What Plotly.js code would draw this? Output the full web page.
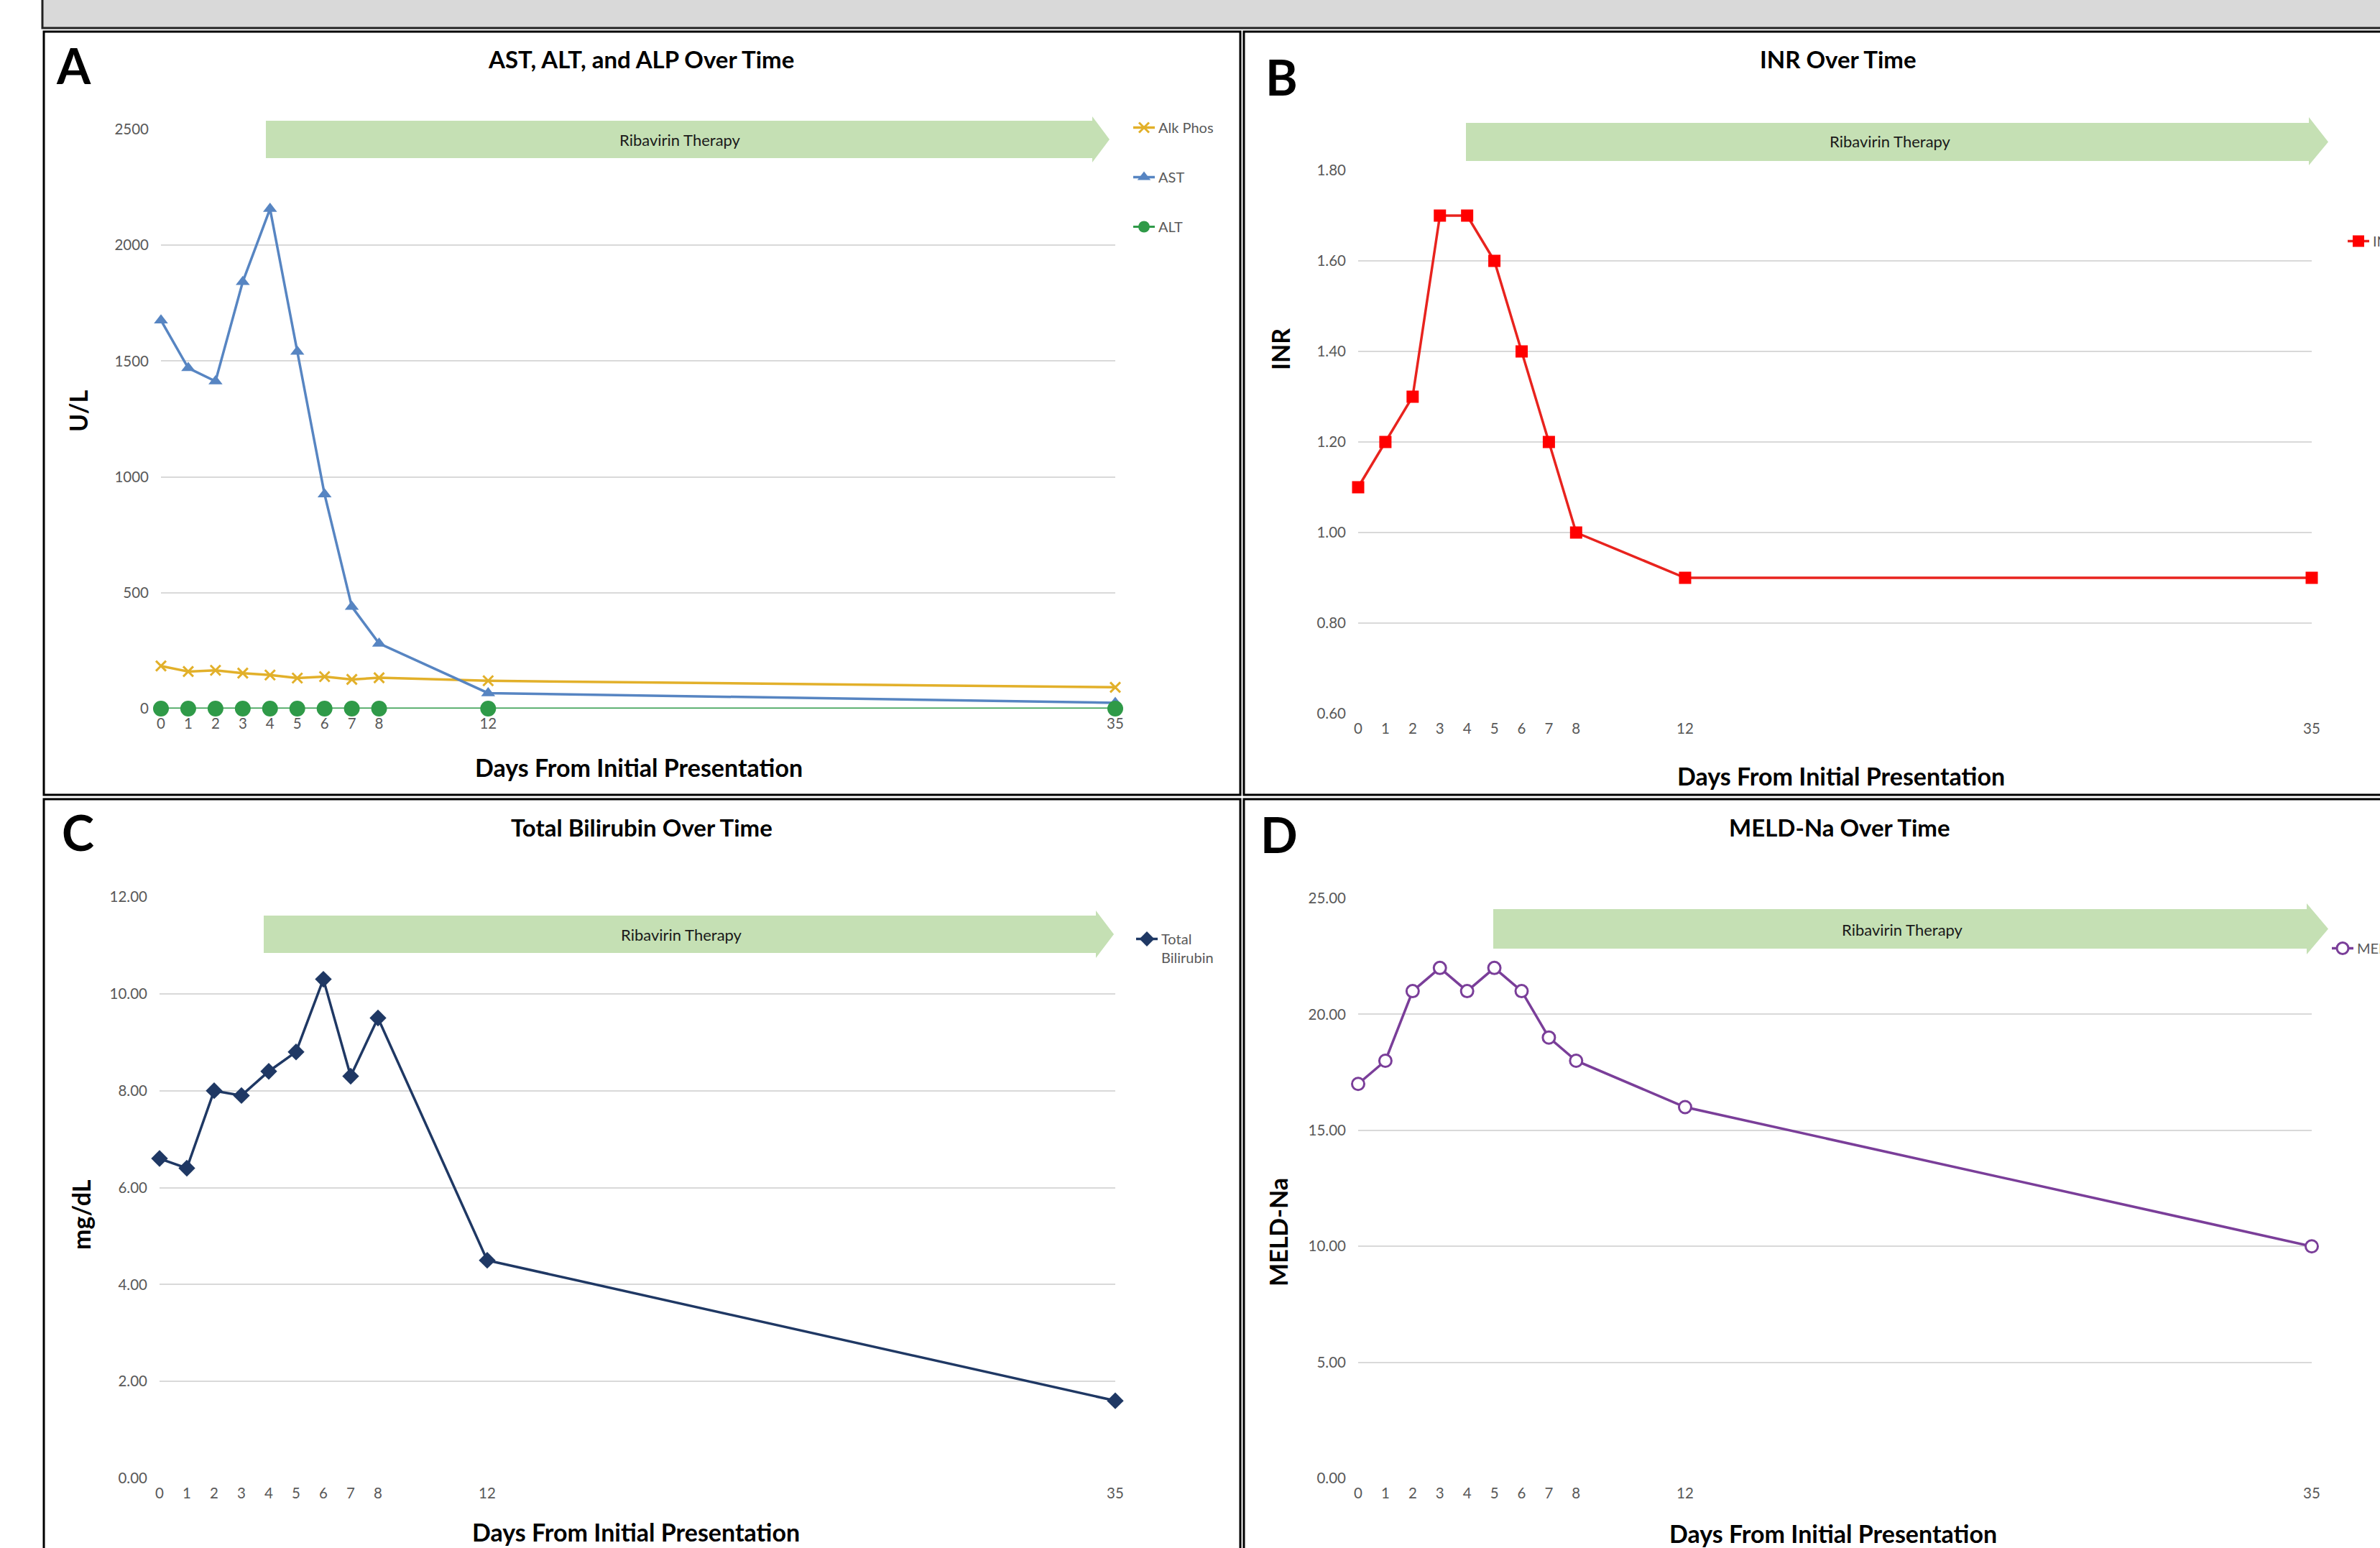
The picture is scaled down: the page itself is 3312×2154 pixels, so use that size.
<!DOCTYPE html>
<html><head><meta charset="utf-8">
<script src="https://cdn.plot.ly/plotly-3.0.1.min.js"></script>
<style>html,body{margin:0;padding:0;background:#fff;overflow:hidden;width:3312px;height:2154px}#chart{width:3312px;height:2154px;overflow:hidden;position:relative}#chart .svg-container,#chart svg{overflow:hidden}</style>
</head><body><div id="chart"></div>
<script>
// ---- data ----
const days = [0, 1, 2, 3, 4, 5, 6, 7, 8, 12, 35];
const dayTickLabels = ['0', '1', '2', '3', '4', '5', '6', '7', '8', '12', '35'];
const alkPhos = [184, 160, 165, 153, 145, 132, 138, 126, 133, 120, 92];
const ast = [1676, 1470, 1413, 1842, 2157, 1541, 925, 440, 281, 67, 25];
const alt = [0, 0, 0, 0, 0, 0, 0, 0, 0, 0, 0];
const inr = [1.10, 1.20, 1.30, 1.70, 1.70, 1.60, 1.40, 1.20, 1.00, 0.90, 0.90];
const bilirubin = [6.6, 6.4, 8.0, 7.9, 8.4, 8.8, 10.3, 8.3, 9.5, 4.5, 1.6];
const meldNa = [17, 18, 21, 22, 21, 22, 21, 19, 18, 16, 10];
const ulTicks = [0, 500, 1000, 1500, 2000, 2500];
const inrTicks = [0.6, 0.8, 1.0, 1.2, 1.4, 1.6, 1.8];
const biliTicks = [0, 2, 4, 6, 8, 10, 12];
const meldTicks = [0, 5, 10, 15, 20, 25];
const panelTitles = ['AST, ALT, and ALP Over Time', 'INR Over Time', 'Total Bilirubin Over Time', 'MELD-Na Over Time'];
const yTitles = ['U/L', 'INR', 'mg/dL', 'MELD-Na'];
const xTitle = 'Days From Initial Presentation';
const panelLetters = ['A', 'B', 'C', 'D'];
const arrowLabel = 'Ribavirin Therapy';

// ---- layout helpers ----
const W = 3312, H = 2154;
const px = x => x / W;
const py = y => 1 - y / H;
const FONT = 'Lato, Roboto, sans-serif';
const TICK = {family: FONT, size: 20.5, color: '#595959'};
const GRID = '#d9d9d9';

function xAxis(l, r) {
  return {domain: [px(l), px(r)], range: [0, 35], tickmode: 'array', tickvals: days, ticktext: dayTickLabels,
    showgrid: false, zeroline: false, showline: false, ticks: '', tickfont: TICK, ticklabelstandoff: 6, fixedrange: true};
}
function yAxis(b, t, range, vals, fmt, anchor) {
  return {domain: [py(b), py(t)], range: range, tickmode: 'array', tickvals: vals, tickformat: fmt,
    showgrid: true, gridcolor: GRID, gridwidth: 2, zeroline: false, showline: false, ticks: '',
    tickfont: TICK, ticklabelstandoff: 16, anchor: anchor, fixedrange: true};
}

const traces = [
  {x: days, y: alkPhos, name: 'Alk Phos', type: 'scatter', mode: 'lines+markers', xaxis: 'x', yaxis: 'y',
   legend: 'legend', legendgroup: 'g1', line: {color: '#e2b02a', width: 3.5},
   marker: {symbol: 'x-thin-open', size: 14, line: {color: '#e2b02a', width: 3}}},
  {x: days, y: ast, name: 'AST', type: 'scatter', mode: 'lines+markers', xaxis: 'x', yaxis: 'y',
   legend: 'legend', legendgroup: 'g2', line: {color: '#5785c2', width: 3.5},
   marker: {symbol: 'triangle-up', size: 17, color: '#5785c2'}},
  {x: days, y: alt, name: 'ALT', type: 'scatter', mode: 'lines+markers', xaxis: 'x', yaxis: 'y',
   legend: 'legend', legendgroup: 'g3', line: {color: '#2f9a48', width: 3},
   marker: {symbol: 'circle', size: 22, color: '#2f9a48'}},
  {x: days, y: inr, name: 'INR', type: 'scatter', mode: 'lines+markers', xaxis: 'x2', yaxis: 'y2',
   legend: 'legend2', line: {color: '#e8231e', width: 3.5},
   marker: {symbol: 'square', size: 17, color: '#ff0000'}},
  {x: days, y: bilirubin, name: 'Total<br>Bilirubin', type: 'scatter', mode: 'lines+markers', xaxis: 'x3', yaxis: 'y3',
   legend: 'legend3', line: {color: '#1f3864', width: 3.5},
   marker: {symbol: 'diamond', size: 18, color: '#1f3864'}},
  {x: days, y: meldNa, name: 'MELD-Na', type: 'scatter', mode: 'lines+markers', xaxis: 'x4', yaxis: 'y4',
   legend: 'legend4', line: {color: '#7a3e99', width: 3.5},
   marker: {symbol: 'circle', size: 17, color: '#ffffff', line: {color: '#7a3e99', width: 3}}}
];
traces.forEach(t => { t.cliponaxis = false; });

function P(x, y) { return px(x).toFixed(5) + ',' + py(y).toFixed(5); }
function arrowPath(left, top, bottom, hs, ht, hb, tip) {
  const mid = (top + bottom) / 2;
  return 'M' + P(left, top) + ' L' + P(hs, top) + ' L' + P(hs, ht) + ' L' + P(tip, mid) +
         ' L' + P(hs, hb) + ' L' + P(hs, bottom) + ' L' + P(left, bottom) + ' Z';
}
const arrows = [
  [370, 168, 220, 1520, 162, 226, 1544, 946, 194],
  [2040, 171, 224, 3213, 163, 230, 3240, 2630, 197],
  [367, 1274, 1326, 1525, 1267, 1333, 1550, 948, 1300],
  [2078, 1265, 1320, 3210, 1257, 1328, 3240, 2647, 1293]
];

const BORDER = {color: '#000', width: 3};
const shapes = [
  // grey figure-title band (cut off at the top of the picture)
  {type: 'rect', xref: 'paper', yref: 'paper', x0: px(59), x1: 1, y0: py(39), y1: 1,
   fillcolor: '#d9d9d9', line: {width: 0}, layer: 'below'},
  {type: 'path', xref: 'paper', yref: 'paper', path: 'M' + P(59, 0) + ' L' + P(59, 39) + ' L' + P(3312, 39),
   line: {color: '#222', width: 3}, layer: 'below'},
  // panel A frame
  {type: 'rect', xref: 'paper', yref: 'paper', x0: px(61), x1: px(1726), y0: py(1106), y1: py(44),
   line: BORDER, layer: 'below'},
  // panel B frame (right edge cut off)
  {type: 'path', xref: 'paper', yref: 'paper', path: 'M' + P(3312, 44) + ' L' + P(1731, 44) + ' L' + P(1731, 1106) + ' L' + P(3312, 1106),
   line: BORDER, layer: 'below'},
  // panel C frame (bottom edge cut off)
  {type: 'path', xref: 'paper', yref: 'paper', path: 'M' + P(61, 2154) + ' L' + P(61, 1112) + ' L' + P(1726, 1112) + ' L' + P(1726, 2154),
   line: BORDER, layer: 'below'},
  // panel D frame (right and bottom cut off)
  {type: 'path', xref: 'paper', yref: 'paper', path: 'M' + P(1731, 2154) + ' L' + P(1731, 1112) + ' L' + P(3312, 1112),
   line: BORDER, layer: 'below'}
];
arrows.forEach(a => shapes.push({type: 'path', xref: 'paper', yref: 'paper',
  path: arrowPath(a[0], a[1], a[2], a[3], a[4], a[5], a[6]),
  fillcolor: '#c5e0b4', line: {width: 0}, layer: 'above'}));

const ann = [];
function txt(text, x, y, size, bold, opts) {
  ann.push(Object.assign({text: bold ? '<b>' + text + '</b>' : text, xref: 'paper', yref: 'paper',
    x: px(x), y: py(y), xanchor: 'center', yanchor: 'middle', showarrow: false,
    font: {family: FONT, size: size, color: '#000'}}, opts || {}));
}
const letterPos = [[102, 90], [1784, 106], [108, 1157], [1780, 1160]];
const titlePos = [[892, 82], [2558, 82], [893, 1151], [2560, 1151]];
const xTitlePos = [[889, 1067], [2562, 1079], [885, 2131], [2551, 2133]];
const yTitlePos = [[108, 572], [1781, 486], [112, 1690], [1778, 1715]];
for (let i = 0; i < 4; i++) {
  txt(panelLetters[i], letterPos[i][0], letterPos[i][1], 68, true);
  txt(panelTitles[i], titlePos[i][0], titlePos[i][1], 33, true);
  txt(xTitle, xTitlePos[i][0], xTitlePos[i][1], 34, true);
  txt(yTitles[i], yTitlePos[i][0], yTitlePos[i][1], 34, true, {textangle: -90});
  txt(arrowLabel, arrows[i][7], arrows[i][8], 22, false, {font: {family: FONT, size: 22, color: '#1a1a1a'}});
}

const legendBase = {xanchor: 'left', yanchor: 'top', bgcolor: 'rgba(0,0,0,0)', borderwidth: 0,
  font: {family: FONT, size: 20, color: '#595959'}, itemclick: false, itemdoubleclick: false};

const layout = {
  width: W, height: H, margin: {l: 0, r: 0, t: 0, b: 0, autoexpand: false}, autosize: false,
  paper_bgcolor: '#fff', plot_bgcolor: 'rgba(0,0,0,0)',
  showlegend: true,
  xaxis: xAxis(224, 1552), yaxis: yAxis(986, 180, [0, 2500], ulTicks, 'd', 'x'),
  xaxis2: xAxis(1890, 3217), yaxis2: yAxis(993, 237, [0.6, 1.8], inrTicks, '.2f', 'x2'),
  xaxis3: xAxis(222, 1552), yaxis3: yAxis(2057, 1248, [0, 12], biliTicks, '.2f', 'x3'),
  xaxis4: xAxis(1890, 3217), yaxis4: yAxis(2057, 1250, [0, 25], meldTicks, '.2f', 'x4'),
  legend: Object.assign({}, legendBase, {x: px(1572), y: py(158), traceorder: 'grouped', tracegroupgap: 40}),
  legend2: Object.assign({}, legendBase, {x: px(3262), y: py(316)}),
  legend3: Object.assign({}, legendBase, {x: px(1576), y: py(1287), valign: 'top'}),
  legend4: Object.assign({}, legendBase, {x: px(3240), y: py(1300)}),
  shapes: shapes, annotations: ann
};
layout.xaxis.anchor = 'y'; layout.xaxis2.anchor = 'y2'; layout.xaxis3.anchor = 'y3'; layout.xaxis4.anchor = 'y4';

Plotly.newPlot('chart', traces, layout, {displayModeBar: false, staticPlot: true});
</script></body></html>
